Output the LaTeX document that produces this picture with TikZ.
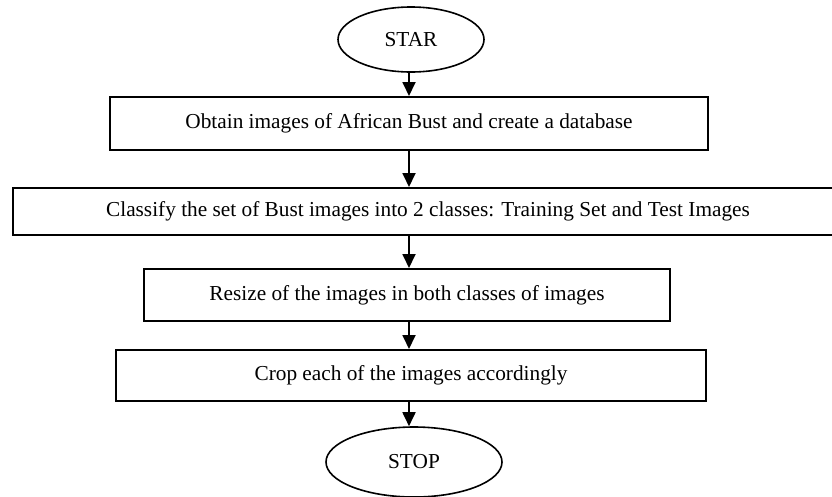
\documentclass[tikz,border=0pt]{standalone}
\usepackage{fontspec}
\setmainfont{Liberation Serif}
\usetikzlibrary{shapes.geometric,arrows.meta}
\begin{document}
\begin{tikzpicture}[x=1pt,y=-1pt,
  every node/.style={font=\fontsize{21.3}{25}\selectfont, inner sep=0pt},
  stepbox/.style={draw, line width=2pt, rectangle},
  term/.style={draw, line width=1.6pt, ellipse},
  arr/.style={line width=1.8pt, -{Triangle[length=14pt,width=13pt]}}]
\useasboundingbox (0,0) rectangle (832,496);
\clip (0,0) rectangle (832,496);
\coordinate (ax) at (409,0);
\node[term, minimum width=146pt, minimum height=65pt] (star) at (411,39.5) {STAR};
\node[stepbox, minimum width=598pt, minimum height=53pt] (b1) at (409,123.5) {Obtain images of African Bust and create a database};
\node[stepbox, minimum width=830pt, minimum height=47pt] (b2) at (428,211.5) {Classify the set of Bust images into 2 classes: Training Set and Test Images};
\node[stepbox, minimum width=526pt, minimum height=52pt] (b3) at (407,295) {Resize of the images in both classes of images};
\node[stepbox, minimum width=590pt, minimum height=51pt] (b4) at (411,375.5) {Crop each of the images accordingly};
\node[term, minimum width=176pt, minimum height=70pt] (stop) at (414,462) {STOP};
\draw[arr] (star.south -| ax) -- (b1.north -| ax);
\draw[arr] (b1.south -| ax) -- (b2.north -| ax);
\draw[arr] (b2.south -| ax) -- (b3.north -| ax);
\draw[arr] (b3.south -| ax) -- (b4.north -| ax);
\draw[arr] (b4.south -| ax) -- (stop.north -| ax);
\end{tikzpicture}
\end{document}
